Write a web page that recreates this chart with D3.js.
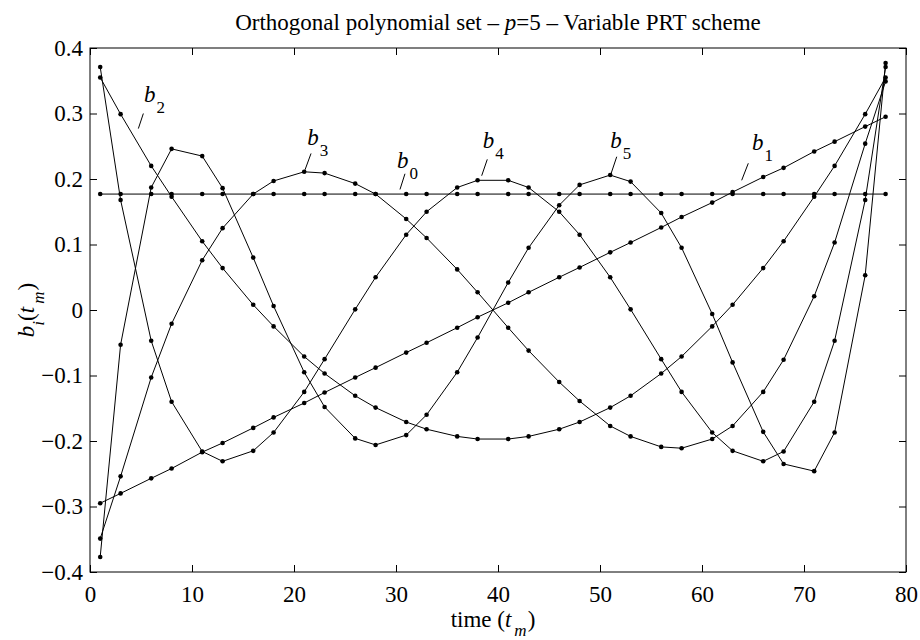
<!DOCTYPE html>
<html>
<head>
<meta charset="utf-8">
<script src="https://cdn.jsdelivr.net/npm/d3@7"></script>
<style>
  body { margin: 0; background: #fff; }
  svg { display: block; }
  svg text { font-family: "Liberation Serif", "Times New Roman", Times, "DejaVu Serif", serif; fill: #000; }
</style>
</head>
<body>
<div id="chart"></div>
<script>
// sample times (variable PRT: alternating gaps of 2 and 3)
const times = [1, 3, 6, 8, 11, 13, 16, 18, 21, 23, 26, 28, 31, 33, 36, 38,
               41, 43, 46, 48, 51, 53, 56, 58, 61, 63, 66, 68, 71, 73, 76, 78];

const b0 = [0.177, 0.177, 0.177, 0.177, 0.177, 0.177, 0.177, 0.177, 0.177, 0.177, 0.177, 0.177, 0.177, 0.177, 0.177, 0.177,
            0.177, 0.177, 0.177, 0.177, 0.177, 0.177, 0.177, 0.177, 0.177, 0.177, 0.177, 0.177, 0.177, 0.177, 0.177, 0.177];
const b1 = [-0.295, -0.280, -0.257, -0.242, -0.217, -0.203, -0.180, -0.164, -0.142, -0.126, -0.103, -0.088, -0.065, -0.050, -0.027, -0.011,
            0.011, 0.027, 0.050, 0.065, 0.088, 0.103, 0.126, 0.142, 0.164, 0.180, 0.203, 0.217, 0.242, 0.257, 0.280, 0.295];
const b2 = [0.355, 0.299, 0.220, 0.173, 0.105, 0.064, 0.008, -0.025, -0.071, -0.097, -0.131, -0.149, -0.171, -0.182, -0.193, -0.197,
            -0.197, -0.193, -0.182, -0.171, -0.149, -0.131, -0.097, -0.071, -0.025, 0.008, 0.064, 0.105, 0.173, 0.220, 0.299, 0.355];
const b3 = [-0.349, -0.254, -0.103, -0.021, 0.076, 0.125, 0.177, 0.197, 0.211, 0.209, 0.193, 0.177, 0.139, 0.110, 0.062, 0.027,
            -0.027, -0.062, -0.110, -0.139, -0.177, -0.193, -0.209, -0.211, -0.197, -0.177, -0.125, -0.076, 0.021, 0.103, 0.254, 0.349];
const b4 = [0.371, 0.168, -0.047, -0.140, -0.216, -0.231, -0.215, -0.187, -0.125, -0.075, 0.001, 0.050, 0.115, 0.150, 0.187, 0.198,
            0.198, 0.187, 0.150, 0.115, 0.050, 0.001, -0.075, -0.125, -0.187, -0.215, -0.231, -0.216, -0.140, -0.047, 0.168, 0.371];
const b5 = [-0.377, -0.053, 0.187, 0.246, 0.235, 0.186, 0.080, 0.006, -0.095, -0.148, -0.196, -0.206, -0.191, -0.160, -0.095, -0.042,
            0.042, 0.095, 0.160, 0.191, 0.206, 0.196, 0.148, 0.095, -0.006, -0.080, -0.186, -0.235, -0.246, -0.187, 0.053, 0.377];

const series = [b0, b1, b2, b3, b4, b5];
const seriesNames = ["0", "1", "2", "3", "4", "5"];

const xTicks = [0, 10, 20, 30, 40, 50, 60, 70, 80];
const yTicks = [-0.4, -0.3, -0.2, -0.1, 0, 0.1, 0.2, 0.3, 0.4];

// curve annotations: text anchor + leader line, in data units
const annotations = [
  { name: "2", t: 5.3, v: 0.318, lead: [[4.74, 0.277], [5.23, 0.300]] },
  { name: "3", t: 21.3, v: 0.252, lead: [[21.08, 0.214], [21.67, 0.239]] },
  { name: "0", t: 30.1, v: 0.217, lead: [[30.39, 0.184], [30.88, 0.208]] },
  { name: "4", t: 38.5, v: 0.247, lead: [[38.40, 0.205], [38.95, 0.230]] },
  { name: "5", t: 51.0, v: 0.247, lead: [[51.08, 0.208], [51.64, 0.234]] },
  { name: "1", t: 64.9, v: 0.244, lead: [[63.89, 0.198], [64.54, 0.224]] }
];

const width = 920;
const height = 640;
const margin = { top: 48, right: 14, bottom: 68, left: 90 };
const serif = '"Liberation Serif", "Times New Roman", Times, "DejaVu Serif", serif';
const fontSize = 23;
const subSize = 17;
const tickLen = 7;

const svg = d3.select("#chart")
  .append("svg")
  .attr("width", width)
  .attr("height", height)
  .attr("viewBox", `0 0 ${width} ${height}`);

svg.append("rect").attr("width", width).attr("height", height).attr("fill", "#fff");

const x = d3.scaleLinear().domain([0, 80]).range([margin.left, width - margin.right]);
const y = d3.scaleLinear().domain([-0.4, 0.4]).range([height - margin.bottom, margin.top]);

// axes (ticks point inward on all four sides)
function styleAxis(g) {
  g.attr("font-family", null).attr("font-size", null);
  g.select(".domain").remove();
  g.selectAll(".tick line").attr("stroke", "#000").attr("stroke-width", 1);
  g.selectAll(".tick text")
    .style("font-family", serif)
    .style("font-size", fontSize + "px")
    .attr("fill", "#000");
}

const yFmt = (d) => (d === 0 ? "0" : d3.format(".1f")(d));

svg.append("g")
  .attr("transform", `translate(0,${y(-0.4)})`)
  .call(d3.axisBottom(x).tickValues(xTicks).tickSizeInner(-tickLen).tickSizeOuter(0).tickPadding(14))
  .call(styleAxis);

svg.append("g")
  .attr("transform", `translate(0,${y(0.4)})`)
  .call(d3.axisTop(x).tickValues(xTicks).tickSizeInner(-tickLen).tickSizeOuter(0).tickFormat(""))
  .call(styleAxis);

svg.append("g")
  .attr("transform", `translate(${x(0)},0)`)
  .call(d3.axisLeft(y).tickValues(yTicks).tickSizeInner(-tickLen).tickSizeOuter(0).tickPadding(7).tickFormat(yFmt))
  .call(styleAxis);

svg.append("g")
  .attr("transform", `translate(${x(80)},0)`)
  .call(d3.axisRight(y).tickValues(yTicks).tickSizeInner(-tickLen).tickSizeOuter(0).tickFormat(""))
  .call(styleAxis);

// box
svg.append("rect")
  .attr("x", x(0)).attr("y", y(0.4))
  .attr("width", x(80) - x(0)).attr("height", y(-0.4) - y(0.4))
  .attr("fill", "none").attr("stroke", "#000").attr("stroke-width", 1);

// curves
const line = d3.line()
  .x((d, i) => x(times[i]))
  .y((d) => y(d));

const curves = svg.append("g").attr("class", "curves");
series.forEach((vals, k) => {
  curves.append("path")
    .attr("class", `curve b${seriesNames[k]}`)
    .attr("d", line(vals))
    .attr("fill", "none")
    .attr("stroke", "#000")
    .attr("stroke-width", 1);
});

series.forEach((vals) => {
  curves.append("g")
    .selectAll("circle")
    .data(vals)
    .enter()
    .append("circle")
    .attr("cx", (d, i) => x(times[i]))
    .attr("cy", (d) => y(d))
    .attr("r", 2.3)
    .attr("fill", "#000");
});

// annotations b_k
const ann = svg.append("g").attr("class", "annotations");
annotations.forEach((a) => {
  ann.append("line")
    .attr("x1", x(a.lead[0][0])).attr("y1", y(a.lead[0][1]))
    .attr("x2", x(a.lead[1][0])).attr("y2", y(a.lead[1][1]))
    .attr("stroke", "#000").attr("stroke-width", 1);
  const t = ann.append("text")
    .attr("x", x(a.t))
    .attr("y", y(a.v))
    .style("font-size", fontSize + "px");
  t.append("tspan").attr("font-style", "italic").text("b");
  t.append("tspan").style("font-size", subSize + "px").attr("dx", 1).attr("dy", 11).text(a.name);
});

// title
const title = svg.append("text")
  .attr("x", (x(0) + x(80)) / 2)
  .attr("y", 30)
  .attr("text-anchor", "middle")
  .style("font-size", fontSize + "px");
title.append("tspan").text("Orthogonal polynomial set \u2013 ");
title.append("tspan").attr("font-style", "italic").text("p");
title.append("tspan").text("=5 \u2013 Variable PRT scheme");

// x label: time (t_m)
const xl = svg.append("text")
  .attr("x", (x(0) + x(80)) / 2 - 5)
  .attr("y", 627)
  .attr("text-anchor", "middle")
  .style("font-size", fontSize + "px");
xl.append("tspan").text("time (");
xl.append("tspan").attr("font-style", "italic").text("t");
xl.append("tspan").attr("font-style", "italic").style("font-size", subSize + "px").attr("dx", 3).attr("dy", 9).text("m");
xl.append("tspan").attr("dx", 1).attr("dy", -9).text(")");

// y label: b_i(t_m)
const yl = svg.append("text")
  .attr("transform", `translate(34,${y(0)}) rotate(-90)`)
  .attr("text-anchor", "middle")
  .style("font-size", fontSize + "px");
yl.append("tspan").attr("font-style", "italic").text("b");
yl.append("tspan").attr("font-style", "italic").style("font-size", subSize + "px").attr("dy", 10).text("i");
yl.append("tspan").attr("dy", -10).text("(");
yl.append("tspan").attr("font-style", "italic").text("t");
yl.append("tspan").attr("font-style", "italic").style("font-size", subSize + "px").attr("dx", 3).attr("dy", 10).text("m");
yl.append("tspan").attr("dx", 1).attr("dy", -10).text(")");
</script>
</body>
</html>
